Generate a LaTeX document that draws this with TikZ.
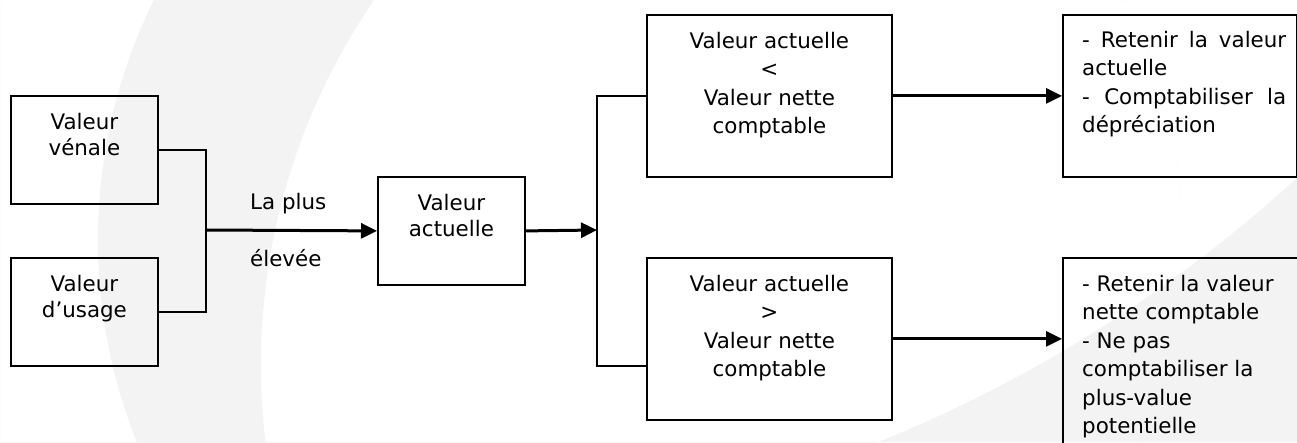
\documentclass[tikz,border=0pt]{standalone}
\usepackage{fontspec}
\setmainfont{DejaVu Sans}
\usetikzlibrary{arrows.meta}
\definecolor{wm}{HTML}{F3F3F3}
\tikzset{
  box/.style={draw, line width=1.8pt, inner sep=0pt, anchor=north west, fill=none},
  elbow/.style={line width=1.7pt},
  arrowline/.style={line width=3pt, -{Triangle[length=16pt,width=15pt]}},
  txt/.style={inner sep=0pt, anchor=north, align=center, font=\fontsize{21.4}{28.5}\selectfont},
  txtsmall/.style={inner sep=0pt, anchor=north, align=center, font=\fontsize{21.4}{26}\selectfont},
  txtleft/.style={inner sep=0pt, anchor=north west, align=left, font=\fontsize{21.4}{28.5}\selectfont},
  lbl/.style={inner sep=0pt, anchor=base west, font=\fontsize{21.4}{26}\selectfont},
}
\begin{document}
\begin{tikzpicture}[x=1pt, y=-1pt]
\useasboundingbox (0,0) rectangle (1297,442);
\clip (0,0) rectangle (1297,442);

% light watermark shapes in the background
\begin{scope}
  \clip (640,240) circle[radius=542pt];
  \fill[wm, even odd rule] (640,240) circle[radius=542pt] (906,365) circle[radius=645pt];
\end{scope}
\fill[wm, even odd rule] (0,0) rectangle (1297,442) (357,-849) circle[radius=1392pt];

% boxes
\node[box, minimum width=147pt, minimum height=108pt] (b1) at (10,95) {};
\node[box, minimum width=147pt, minimum height=108pt] (b2) at (10,257) {};
\node[box, minimum width=147pt, minimum height=108pt] (b3) at (377,176) {};
\node[box, minimum width=245pt, minimum height=162pt] (b4) at (646,14) {};
\node[box, minimum width=245pt, minimum height=162pt] (b5) at (646,257) {};
\node[box, minimum width=234pt, minimum height=162pt] (b6) at (1062,14) {};
\node[box, minimum width=260pt, minimum height=230pt] (b7) at (1062,257) {};

% box texts
\node[txtsmall] (t1) at ([yshift=-16pt]b1.north) {\strut Valeur\\vénale};
\node[txtsmall] (t2) at ([yshift=-16pt]b2.north) {\strut Valeur\\d’usage};
\node[txtsmall] (t3) at ([yshift=-16pt]b3.north) {\strut Valeur\\actuelle};
\node[txt] (t4) at ([yshift=-14pt]b4.north) {\strut Valeur actuelle\\<\\Valeur nette\\comptable};
\node[txt] (t5) at ([yshift=-14pt]b5.north) {\strut Valeur actuelle\\>\\Valeur nette\\comptable};
\node[txtleft] (t6) at ([xshift=20pt,yshift=-13pt]b6.north west)
  {\strut\makebox[204pt][s]{- Retenir la valeur}\\actuelle\\\makebox[204pt][s]{- Comptabiliser la}\\dépréciation};
\node[txtleft] (t7) at ([xshift=20pt,yshift=-14pt]b7.north west)
  {\strut - Retenir la valeur\\nette comptable\\- Ne pas\\comptabiliser la\\plus-value\\potentielle};

% junction points
\coordinate (j1) at (206,230);
\coordinate (j2) at (597,230);

% connectors
\draw[elbow] (b1.east) -| (j1) |- (b2.east);
\draw[arrowline] (j1) -- (b3.west);
\node[lbl] (l1) at (250,209) {La plus};
\node[lbl] (l2) at (250,266) {élevée};
\draw[arrowline] (b3.east) -- (j2);
\draw[elbow] (b4.west) -| (j2) |- ([yshift=-27pt]b5.west);
\draw[arrowline] (b4.east) -- (b4.east -| b6.west);
\draw[arrowline] (b5.east) -- (b5.east -| b7.west);
\end{tikzpicture}
\end{document}
